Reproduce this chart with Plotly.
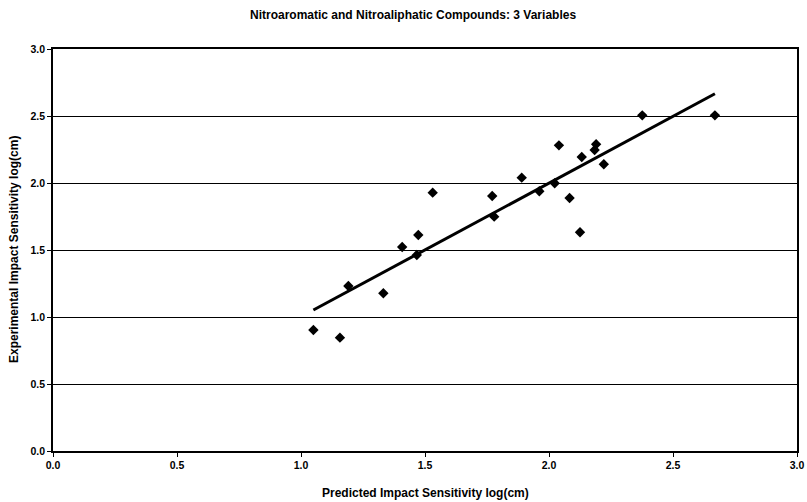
import plotly.graph_objects as go

# Data
predicted = [1.050, 1.157, 1.191, 1.332, 1.408, 1.473, 1.467, 1.531, 1.771, 1.779,
             1.890, 1.961, 2.023, 2.040, 2.083, 2.125, 2.132, 2.184, 2.190, 2.221,
             2.376, 2.669]
experimental = [0.903, 0.846, 1.231, 1.177, 1.522, 1.612, 1.463, 1.928, 1.903, 1.749,
                2.040, 1.938, 1.998, 2.281, 1.888, 1.632, 2.194, 2.246, 2.289, 2.140,
                2.505, 2.505]
trend_x = [1.050, 2.669]
trend_y = [1.052, 2.666]

title_text = "Nitroaromatic and Nitroaliphatic Compounds: 3 Variables"
x_title = "Predicted Impact Sensitivity log(cm)"
y_title = "Experimental Impact Sensitivity log(cm)"

FONT = "Liberation Sans"

fig = go.Figure()
fig.add_trace(go.Scatter(x=trend_x, y=trend_y, mode="lines",
                         line=dict(color="black", width=3), showlegend=False,
                         hoverinfo="skip"))
fig.add_trace(go.Scatter(x=predicted, y=experimental, mode="markers",
                         marker=dict(symbol="diamond", size=8, color="black"),
                         showlegend=False))

fig.update_layout(
    width=807, height=502,
    margin=dict(l=53, r=10, t=49, b=51, autoexpand=False),
    paper_bgcolor="white", plot_bgcolor="white",
    font=dict(family=FONT, color="black", size=11, weight="bold"),
    annotations=[
        dict(text=title_text, xref="paper", yref="paper", x=0.484, y=1.0,
             yshift=34, showarrow=False, xanchor="center", yanchor="middle",
             font=dict(family=FONT, size=12, weight="bold", color="black")),
        dict(text=x_title, xref="paper", yref="paper", x=0.5, y=0,
             yshift=-42, showarrow=False, xanchor="center", yanchor="middle",
             font=dict(family=FONT, size=12, weight="bold", color="black")),
        dict(text=y_title, xref="paper", yref="paper", x=0, y=0.5,
             xshift=-39, showarrow=False, textangle=-90, xanchor="center",
             yanchor="middle",
             font=dict(family=FONT, size=12, weight="bold", color="black")),
    ],
    xaxis=dict(range=[0, 3], dtick=0.5, tick0=0, tickformat=".1f",
               automargin=False,
               showgrid=False, zeroline=False, showline=True, mirror=True,
               linecolor="black", linewidth=1.5, ticks="outside", ticklen=4,
               tickcolor="black", tickwidth=1,
               tickfont=dict(family=FONT, size=10.5, weight="bold")),
    yaxis=dict(range=[0, 3], dtick=0.5, tick0=0, tickformat=".1f",
               automargin=False,
               showgrid=True, gridcolor="black", gridwidth=1, zeroline=False,
               showline=True, mirror=True, linecolor="black", linewidth=1.5,
               ticks="outside", ticklen=4, tickcolor="black", tickwidth=1,
               tickfont=dict(family=FONT, size=10.5, weight="bold")),
)

fig.write_html("out.html")
